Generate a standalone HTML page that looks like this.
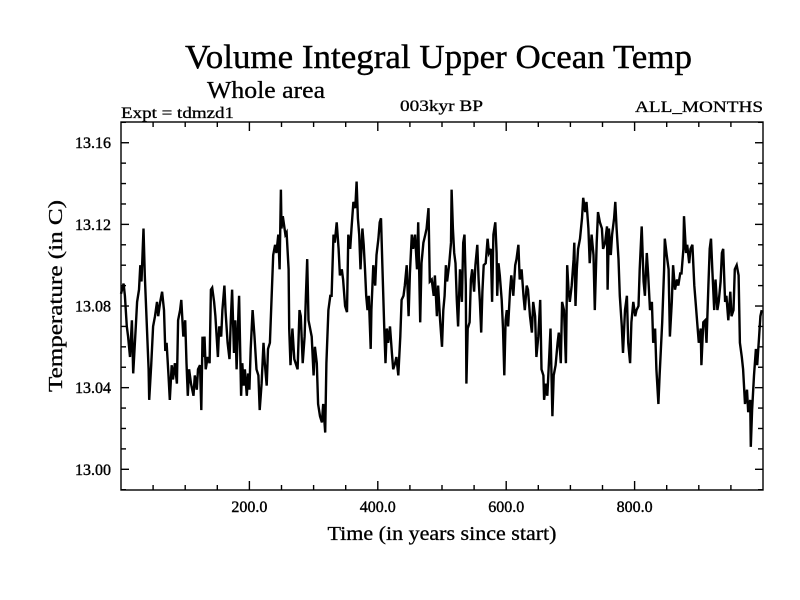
<!DOCTYPE html>
<html><head><meta charset="utf-8"><style>
html,body{margin:0;padding:0;background:#fff}
svg{display:block}
text{font-family:"Liberation Serif",serif;fill:#000}
</style></head><body>
<svg id="chart" width="800" height="600" xmlns="http://www.w3.org/2000/svg">
<text x="185" y="68" font-size="34" textLength="507" lengthAdjust="spacingAndGlyphs" stroke="#000" stroke-width="0.4">Volume Integral Upper Ocean Temp</text>
<text x="207" y="98" font-size="24" textLength="118" lengthAdjust="spacingAndGlyphs" stroke="#000" stroke-width="0.3">Whole area</text>
<text x="121" y="118" font-size="16" textLength="113" lengthAdjust="spacingAndGlyphs" stroke="#000" stroke-width="0.3">Expt = tdmzd1</text>
<text x="400" y="111" font-size="16" textLength="83" lengthAdjust="spacingAndGlyphs" stroke="#000" stroke-width="0.3">003kyr BP</text>
<text x="763" y="112" font-size="16" text-anchor="end" textLength="128" lengthAdjust="spacingAndGlyphs" stroke="#000" stroke-width="0.3">ALL_MONTHS</text>
<text x="442" y="540" font-size="20" text-anchor="middle" textLength="229" lengthAdjust="spacingAndGlyphs" stroke="#000" stroke-width="0.3">Time (in years since start)</text>
<text x="0" y="0" font-size="20" text-anchor="middle" transform="translate(62,296) rotate(-90)" textLength="192" lengthAdjust="spacingAndGlyphs" stroke="#000" stroke-width="0.3">Temperature (in C)</text>
<g id="axes"></g>
<g id="series"></g>
</svg>
<script>
const years = [0,4,6,9,11,14,17,19,23,25,28,30,32,35,37,40,43,44,47,50,53,56,58,61,64,67,69,71,74,76,79,81,84,87,89,92,94,97,100,102,104,106,109,113,115,118,120,123,125,127,128,130,132,135,138,140,142,145,147,151,153,156,158,161,163,166,169,171,173,176,178,180,183,184,187,189,191,193,196,198,200,202,205,208,211,214,216,219,222,224,227,229,232,235,237,240,242,245,247,249,250,
252,256,258,261,262,264,267,270,273,275,278,280,283,286,288,290,292,294,297,300,302,305,307,310,313,315,318,320,323,326,328,331,333,336,339,341,344,346,349,352,354,357,359,362,365,367,369,371,373,376,378,380,382,384,386,389,390,393,396,398,401,403,405,407,410,412,414,416,419,422,424,427,429,432,435,437,440,442,445,448,450,453,455,458,461,463,466,468,471,474,476,479,481,484,487,489,492,494,497,500,502,
504,506,508,511,514,515,517,519,521,523,525,528,531,533,535,537,538,540,543,545,547,550,552,555,557,559,561,563,565,568,571,573,576,578,580,583,585,586,588,590,593,595,597,599,601,603,606,608,611,614,616,619,621,624,627,629,632,634,637,640,642,645,647,650,653,655,658,659,662,664,667,669,672,674,677,680,682,685,687,690,693,695,697,699,702,705,706,708,710,712,715,718,720,723,725,728,730,733,736,738,741,743,746,749,751,
754,757,758,760,763,765,768,770,772,775,777,780,782,785,788,790,793,795,798,801,803,806,808,811,814,816,819,821,824,827,829,832,834,837,839,841,843,846,847,850,853,855,858,860,863,866,868,871,873,876,877,880,882,885,887,890,893,895,898,900,903,904,907,910,912,915,917,919,921,924,926,929,931,934,936,938,941,943,946,949,951,954,956,959,962,964,967,969,972,975,977,980,981,983,986,989,991,994,996,998];
const temps = [13.086,13.091,13.085,13.070,13.065,13.055,13.073,13.047,13.070,13.082,13.088,13.100,13.092,13.118,13.095,13.072,13.049,13.034,13.051,13.070,13.075,13.082,13.075,13.082,13.087,13.078,13.058,13.062,13.046,13.034,13.051,13.044,13.052,13.042,13.073,13.078,13.083,13.065,13.073,13.052,13.036,13.049,13.042,13.036,13.046,13.039,13.049,13.051,13.029,13.065,13.055,13.065,13.049,13.055,13.052,13.088,13.089,13.082,13.075,13.055,13.070,13.065,13.078,13.090,13.077,13.062,13.054,13.073,13.088,13.057,13.073,13.049,13.078,13.085,13.036,13.052,13.041,13.049,13.036,13.047,13.039,13.059,13.078,13.065,13.049,13.046,13.029,13.042,13.062,13.052,13.041,13.059,13.062,13.088,13.105,13.110,13.106,13.115,13.098,13.137,13.118,
13.124,13.115,13.116,13.098,13.069,13.051,13.069,13.054,13.051,13.049,13.078,13.075,13.052,13.065,13.085,13.103,13.073,13.070,13.065,13.046,13.060,13.052,13.032,13.026,13.023,13.032,13.018,13.052,13.078,13.085,13.085,13.115,13.111,13.121,13.108,13.095,13.098,13.093,13.080,13.077,13.115,13.108,13.118,13.131,13.128,13.141,13.123,13.115,13.098,13.118,13.110,13.098,13.085,13.078,13.085,13.059,13.078,13.100,13.090,13.105,13.113,13.121,13.123,13.101,13.070,13.052,13.069,13.062,13.070,13.057,13.049,13.052,13.055,13.046,13.065,13.083,13.085,13.090,13.100,13.075,13.096,13.115,13.108,13.115,13.098,13.121,13.072,13.101,13.111,13.115,13.118,13.128,13.092,13.093,13.085,13.095,13.075,13.090,13.073,13.060,13.078,
13.085,13.100,13.092,13.100,13.111,13.137,13.118,13.106,13.101,13.083,13.070,13.098,13.082,13.111,13.115,13.090,13.042,13.069,13.072,13.093,13.098,13.087,13.100,13.110,13.093,13.082,13.067,13.087,13.100,13.101,13.113,13.106,13.108,13.082,13.115,13.121,13.106,13.085,13.101,13.095,13.083,13.069,13.046,13.073,13.078,13.070,13.088,13.095,13.085,13.100,13.103,13.110,13.093,13.098,13.085,13.078,13.090,13.088,13.075,13.067,13.082,13.075,13.055,13.065,13.083,13.049,13.046,13.034,13.042,13.036,13.055,13.069,13.026,13.046,13.051,13.062,13.067,13.052,13.082,13.078,13.052,13.100,13.088,13.082,13.090,13.103,13.111,13.080,13.098,13.108,13.113,13.123,13.133,13.126,13.131,13.118,13.101,13.115,13.105,13.078,13.111,13.126,13.121,13.118,13.108,
13.111,13.119,13.088,13.118,13.105,13.115,13.123,13.131,13.118,13.103,13.085,13.070,13.057,13.078,13.085,13.062,13.052,13.072,13.082,13.075,13.078,13.080,13.098,13.119,13.092,13.085,13.106,13.096,13.078,13.082,13.062,13.069,13.049,13.032,13.046,13.059,13.072,13.098,13.113,13.105,13.098,13.065,13.082,13.100,13.088,13.093,13.090,13.096,13.096,13.108,13.124,13.106,13.110,13.101,13.108,13.110,13.090,13.082,13.070,13.062,13.069,13.051,13.072,13.073,13.062,13.090,13.108,13.113,13.098,13.078,13.093,13.078,13.082,13.092,13.106,13.108,13.082,13.085,13.073,13.087,13.075,13.078,13.098,13.100,13.095,13.062,13.055,13.049,13.032,13.039,13.028,13.034,13.011,13.029,13.046,13.059,13.051,13.065,13.075,13.078];
const yTickValues = [13.00,13.04,13.08,13.12,13.16];
const yTickLabels = ["13.00","13.04","13.08","13.12","13.16"];
const xTickValues = [200,400,600,800];
const xTickLabels = ["200.0","400.0","600.0","800.0"];

const NS="http://www.w3.org/2000/svg";
const L=121,R=763,T=122,B=490;
function xs(t){return L+t*0.642;}
function ys(v){return 469.3-(v-13.0)*2041;}
const axes=document.getElementById('axes');
const series=document.getElementById('series');
function line(x1,y1,x2,y2,name){
  const l=document.createElementNS(NS,'line');
  l.setAttribute('x1',x1);l.setAttribute('y1',y1);l.setAttribute('x2',x2);l.setAttribute('y2',y2);
  l.setAttribute('stroke','#000');l.setAttribute('stroke-width','1.4');
  
  
  axes.appendChild(l);
}
const frame=document.createElementNS(NS,'rect');
frame.setAttribute('x',L);frame.setAttribute('y',T);frame.setAttribute('width',R-L);frame.setAttribute('height',B-T);
frame.setAttribute('fill','none');frame.setAttribute('stroke','#000');frame.setAttribute('stroke-width','1.4');


axes.appendChild(frame);
for(let i=-1;i<=17;i++){
  const v=13+i*0.01; const y=ys(v);
  if(y<T||y>B) continue;
  const major=(i%4===0);
  const len=major?8:5;
  line(L,y,L+len,y,'y-tick-left');
  line(R,y,R-len,y,'y-tick-right');
}
yTickValues.forEach((v,i)=>{
  const t=document.createElementNS(NS,'text');
  t.setAttribute('x',111);t.setAttribute('y',ys(v)+5.5);
  t.setAttribute('font-size','16');t.setAttribute('text-anchor','end');
  t.setAttribute('stroke','#000');t.setAttribute('stroke-width','0.4');
  t.textContent=yTickLabels[i];
  
  
  axes.appendChild(t);
});
for(let yr=50;yr<1000;yr+=50){
  const x=xs(yr); const major=(yr%200===0); const len=major?9:5;
  line(x,B,x,B-len,'x-tick-bottom');
  line(x,T,x,T+len,'x-tick-top');
}
xTickValues.forEach((v,i)=>{
  const t=document.createElementNS(NS,'text');
  t.setAttribute('x',xs(v));t.setAttribute('y',512);
  t.setAttribute('font-size','16');t.setAttribute('text-anchor','middle');
  t.setAttribute('stroke','#000');t.setAttribute('stroke-width','0.4');
  t.textContent=xTickLabels[i];
  
  
  axes.appendChild(t);
});
let d='';
for(let i=0;i<years.length;i++){d+=(i?'L':'M')+xs(years[i]).toFixed(1)+','+ys(temps[i]).toFixed(1);}
const p=document.createElementNS(NS,'path');
p.setAttribute('d',d);p.setAttribute('fill','none');p.setAttribute('stroke','#000');
p.setAttribute('stroke-width','2.4');p.setAttribute('stroke-linejoin','miter');


series.appendChild(p);
</script>
</body></html>
